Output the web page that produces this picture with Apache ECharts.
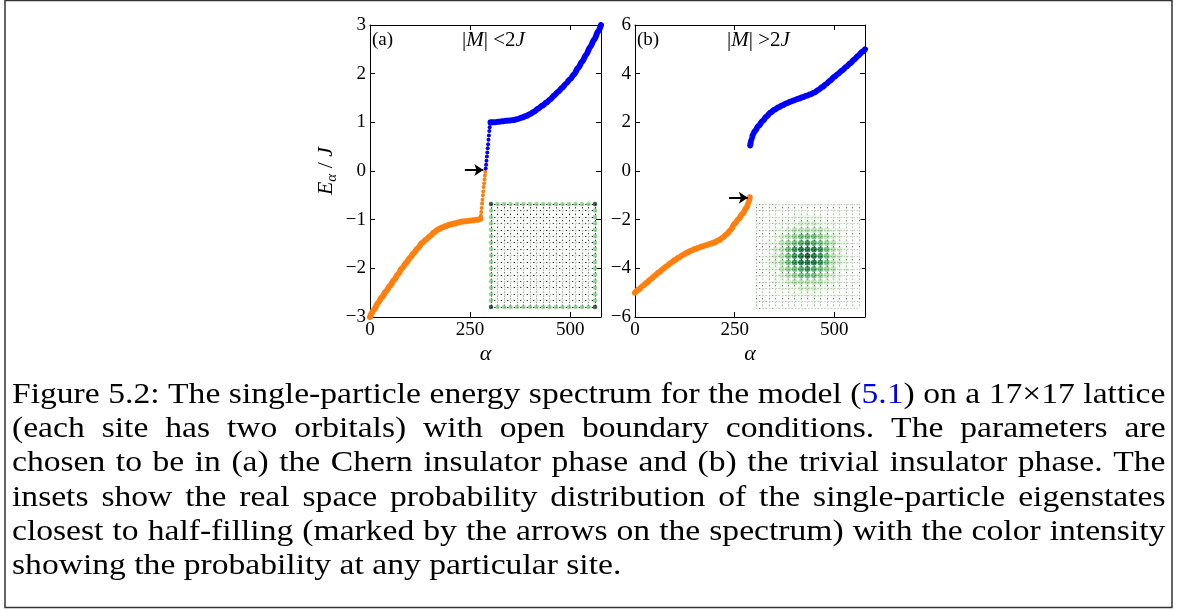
<!DOCTYPE html>
<html>
<head>
<meta charset="utf-8">
<script src="https://cdn.jsdelivr.net/npm/echarts@6/dist/echarts.min.js"></script>
<style>
  body { margin: 0; background: #fff; }
  #chart { position: absolute; left: 0; top: 0; width: 1178px; height: 610px; }
  .cap { position: absolute; left: 12px; width: 1030px; height: 34px; line-height: 34px;
         font-family: "Liberation Serif", serif; font-size: 30px; color: #000; white-space: nowrap;
         transform: scaleX(1.12); transform-origin: left center; }
  .cap.just { display: flex; justify-content: space-between; }
</style>
</head>
<body>
<div id="chart"></div>
<div id="caption"></div>
<script>
// panel (a): |M| < 2J, lower band (orange) and upper band (blue)
var alphaLowA = [0, 10, 20, 30, 40, 50, 60, 70, 80, 90, 100, 110, 120, 130, 140, 150, 160, 170, 180, 190, 200, 210, 220, 230, 240, 250, 260, 270, 276]
var energyLowA = [-3.0, -2.85, -2.71, -2.59, -2.47, -2.36, -2.24, -2.12, -2.0, -1.89, -1.78, -1.68, -1.58, -1.48, -1.41, -1.34, -1.26, -1.2, -1.16, -1.13, -1.1, -1.08, -1.06, -1.04, -1.03, -1.02, -1.01, -1.0, -0.98]
// edge states crossing the gap, drawn as single dots
var alphaEdgeLowA = [277, 278, 279, 280, 281, 282, 283, 284, 285, 286, 287, 288]
var energyEdgeLowA = [-0.92, -0.84, -0.76, -0.67, -0.59, -0.5, -0.42, -0.33, -0.25, -0.17, -0.09, -0.02]
var alphaEdgeHighA = [289, 290, 291, 292, 293, 294, 295, 296, 297, 298, 299, 300]
var energyEdgeHighA = [0.05, 0.13, 0.21, 0.3, 0.38, 0.47, 0.55, 0.64, 0.73, 0.82, 0.9, 0.97]
var alphaHighA = [301, 310, 320, 330, 340, 350, 360, 370, 380, 390, 400, 410, 420, 430, 440, 450, 460, 470, 480, 490, 500, 510, 520, 530, 540, 550, 560, 570, 577]
var energyHighA = [1.0, 1.0, 1.01, 1.02, 1.03, 1.04, 1.05, 1.07, 1.1, 1.13, 1.17, 1.22, 1.28, 1.34, 1.4, 1.47, 1.55, 1.63, 1.71, 1.8, 1.89, 1.99, 2.12, 2.25, 2.39, 2.55, 2.7, 2.87, 3.0]

// panel (b): |M| > 2J
var alphaLowB = [0, 10, 20, 30, 40, 50, 60, 70, 80, 90, 100, 110, 120, 130, 140, 150, 160, 170, 180, 190, 200, 210, 220, 230, 240, 250, 260, 270, 280, 285, 288]
var energyLowB = [-5.0, -4.86, -4.72, -4.58, -4.44, -4.3, -4.16, -4.03, -3.9, -3.78, -3.66, -3.55, -3.45, -3.36, -3.28, -3.21, -3.15, -3.09, -3.04, -2.99, -2.93, -2.85, -2.74, -2.6, -2.42, -2.17, -1.97, -1.76, -1.5, -1.3, -1.08]
var alphaHighB = [289, 292, 296, 300, 310, 320, 330, 340, 350, 360, 370, 380, 390, 400, 410, 420, 430, 440, 450, 460, 470, 480, 490, 500, 510, 520, 530, 540, 550, 560, 570, 577]
var energyHighB = [1.05, 1.3, 1.5, 1.62, 1.85, 2.05, 2.24, 2.4, 2.52, 2.62, 2.7, 2.78, 2.85, 2.91, 2.97, 3.03, 3.09, 3.15, 3.23, 3.33, 3.45, 3.58, 3.72, 3.87, 4.0, 4.14, 4.28, 4.43, 4.58, 4.74, 4.9, 5.0]

// arrows marking the state closest to half filling
var arrowA = [[237, 0.02], [283, 0.02]]
var arrowB = [[236, -1.1], [283, -1.1]]

// inset probabilities on the 17x17 lattice (0..9), rows from top
var probA = [
  [9,4,4,4,4,4,4,4,4,4,4,4,4,4,4,4,9],
  [4,0,0,0,0,0,0,0,0,0,0,0,0,0,0,0,4],
  [4,0,0,0,0,0,0,0,0,0,0,0,0,0,0,0,4],
  [4,0,0,0,0,0,0,0,0,0,0,0,0,0,0,0,4],
  [4,0,0,0,0,0,0,0,0,0,0,0,0,0,0,0,4],
  [4,0,0,0,0,0,0,0,0,0,0,0,0,0,0,0,4],
  [4,0,0,0,0,0,0,0,0,0,0,0,0,0,0,0,4],
  [4,0,0,0,0,0,0,0,0,0,0,0,0,0,0,0,4],
  [4,0,0,0,0,0,0,0,0,0,0,0,0,0,0,0,4],
  [4,0,0,0,0,0,0,0,0,0,0,0,0,0,0,0,4],
  [4,0,0,0,0,0,0,0,0,0,0,0,0,0,0,0,4],
  [4,0,0,0,0,0,0,0,0,0,0,0,0,0,0,0,4],
  [4,0,0,0,0,0,0,0,0,0,0,0,0,0,0,0,4],
  [4,0,0,0,0,0,0,0,0,0,0,0,0,0,0,0,4],
  [4,0,0,0,0,0,0,0,0,0,0,0,0,0,0,0,4],
  [4,0,0,0,0,0,0,0,0,0,0,0,0,0,0,0,4],
  [9,4,4,4,4,4,4,4,4,4,4,4,4,4,4,4,9]
]
var probB = [
  [0,0,0,0,0,0,0,0,0,0,0,0,0,0,0,0,0],
  [0,0,0,0,0,0,0,0,0,0,0,0,0,0,0,0,0],
  [0,0,0,0,0,0,1,1,1,1,1,0,0,0,0,0,0],
  [0,0,0,0,1,1,1,2,2,2,1,1,1,0,0,0,0],
  [0,0,0,1,1,2,3,3,3,3,3,2,1,1,0,0,0],
  [0,0,0,1,2,3,4,5,5,5,4,3,2,1,0,0,0],
  [0,0,1,1,3,4,5,6,7,6,5,4,3,1,1,0,0],
  [0,0,1,2,3,5,7,8,8,8,7,5,3,2,1,0,0],
  [0,0,1,2,3,5,7,8,9,8,7,5,3,2,1,0,0],
  [0,0,1,2,3,5,7,8,8,8,7,5,3,2,1,0,0],
  [0,0,1,1,3,4,5,6,7,6,5,4,3,1,1,0,0],
  [0,0,0,1,2,3,4,5,5,5,4,3,2,1,0,0,0],
  [0,0,0,1,1,2,3,3,3,3,3,2,1,1,0,0,0],
  [0,0,0,0,1,1,1,2,2,2,1,1,1,0,0,0,0],
  [0,0,0,0,0,0,1,1,1,1,1,0,0,0,0,0,0],
  [0,0,0,0,0,0,0,0,0,0,0,0,0,0,0,0,0],
  [0,0,0,0,0,0,0,0,0,0,0,0,0,0,0,0,0]
]

var captionLines = [
  'Figure 5.2: The single-particle energy spectrum for the model (5.1) on a 17×17 lattice',
  '(each site has two orbitals) with open boundary conditions. The parameters are',
  'chosen to be in (a) the Chern insulator phase and (b) the trivial insulator phase. The',
  'insets show the real space probability distribution of the single-particle eigenstates',
  'closest to half-filling (marked by the arrows on the spectrum) with the color intensity',
  'showing the probability at any particular site.'
]

var ORANGE = '#ff7f0e'
var BLUE = '#0000ff'
var GREENS = ['#f7fcf5', '#e5f5e0', '#c7e9c0', '#a1d99b', '#74c476', '#41ab5d', '#238b45', '#006d2c', '#00441b']
var FONT = 'Liberation Serif'

function pairs(xs, ys) {
  return xs.map(function(x, i) { return [x, ys[i]] })
}

function latticePoints(mat) {
  var pts = []
  mat.forEach(function(row, r) {
    row.forEach(function(v, c) { pts.push([c, 16 - r, v]) })
  })
  return pts
}

function minus(v) {
  return v < 0 ? '\u2212' + Math.abs(v) : String(v)
}

function frameAxis(grid, pos, opts) {
  var ax = {
    gridIndex: grid, type: 'value', position: pos,
    min: opts.min, max: opts.max, interval: opts.interval,
    axisLine: { show: true, onZero: false, lineStyle: { color: '#000', width: 1 } },
    axisTick: { show: true, inside: true, length: 5, lineStyle: { color: '#000' } },
    axisLabel: {
      show: !!opts.labels, color: '#000', fontFamily: FONT, fontSize: 19, margin: 4,
      formatter: minus, showMaxLabel: opts.showMax !== false
    },
    splitLine: { show: false }
  }
  if (opts.name) {
    ax.name = opts.name
    ax.nameLocation = 'middle'
    ax.nameGap = opts.nameGap
    ax.nameRotate = opts.nameRotate || 0
    ax.nameTextStyle = opts.nameStyle
  }
  return ax
}

// dotted lattice bonds, one line per row / column of sites
function insetAxis(grid) {
  return {
    gridIndex: grid, type: 'value', min: 0, max: 16, interval: 1,
    axisLine: { show: false }, axisTick: { show: false }, axisLabel: { show: false },
    splitLine: { show: true, lineStyle: { color: '#000', width: 1.1, type: [1.4, 1.85] } }
  }
}

function arrowLine(arrow) {
  return {
    silent: true, symbol: ['none', 'arrow'], symbolSize: 9,
    label: { show: false },
    lineStyle: { color: '#000', width: 2, type: 'solid' },
    data: [[{ coord: arrow[0] }, { coord: arrow[1] }]]
  }
}

function bandLine(xi, data, color, arrow) {
  var s = {
    type: 'line', xAxisIndex: xi, yAxisIndex: xi, data: data,
    showSymbol: false, symbol: 'none', smooth: 0.3, smoothMonotone: 'x',
    lineStyle: { color: color, width: 6, cap: 'round', join: 'round' },
    itemStyle: { color: color }, z: 2
  }
  if (arrow) s.markLine = arrowLine(arrow)
  return s
}

function dots(xi, data, color) {
  return {
    type: 'scatter', xAxisIndex: xi, yAxisIndex: xi, data: data,
    symbolSize: 4, itemStyle: { color: color, opacity: 1 }, z: 2
  }
}

var chart = echarts.init(document.getElementById('chart'))

var nameAlpha = { fontFamily: FONT, fontStyle: 'italic', fontSize: 22, color: '#000' }
var nameE = {
  fontFamily: FONT, fontSize: 22, color: '#000',
  rich: {
    i: { fontFamily: FONT, fontStyle: 'italic', fontSize: 22, color: '#000', lineHeight: 28, verticalAlign: 'middle' },
    s: { fontFamily: FONT, fontStyle: 'italic', fontSize: 15, color: '#000', lineHeight: 28, verticalAlign: 'bottom' },
    n: { fontFamily: FONT, fontSize: 22, color: '#000', lineHeight: 28, verticalAlign: 'middle' }
  }
}

var titleRich = {
  n: { fontFamily: FONT, fontSize: 21, fill: '#000' },
  i: { fontFamily: FONT, fontStyle: 'italic', fontSize: 21, fill: '#000' }
}

var option = {
  animation: false,
  backgroundColor: '#fff',
  grid: [
    { left: 370, top: 25, width: 231, height: 292 },
    { left: 635, top: 25, width: 230, height: 292 },
    { left: 491, top: 204, width: 104, height: 103 },
    { left: 756, top: 204, width: 103, height: 104 }
  ],
  xAxis: [
    frameAxis(0, 'bottom', { min: 0, max: 577, interval: 250, labels: true, showMax: false, name: 'α', nameGap: 26, nameStyle: nameAlpha }),
    frameAxis(0, 'top', { min: 0, max: 577, interval: 250 }),
    frameAxis(1, 'bottom', { min: 0, max: 577, interval: 250, labels: true, showMax: false, name: 'α', nameGap: 26, nameStyle: nameAlpha }),
    frameAxis(1, 'top', { min: 0, max: 577, interval: 250 }),
    insetAxis(2),
    insetAxis(3)
  ],
  yAxis: [
    frameAxis(0, 'left', { min: -3, max: 3, interval: 1, labels: true, name: '{i|E}{s|α}{n| / }{i|J}', nameGap: 30, nameRotate: 90, nameStyle: nameE }),
    frameAxis(0, 'right', { min: -3, max: 3, interval: 1 }),
    frameAxis(1, 'left', { min: -6, max: 6, interval: 2, labels: true }),
    frameAxis(1, 'right', { min: -6, max: 6, interval: 2 }),
    insetAxis(2),
    insetAxis(3)
  ],
  visualMap: [
    { type: 'continuous', show: false, seriesIndex: 6, dimension: 2, min: 0, max: 9, inRange: { color: GREENS } },
    { type: 'continuous', show: false, seriesIndex: 7, dimension: 2, min: 0, max: 9, inRange: { color: GREENS } }
  ],
  series: [
    bandLine(0, pairs(alphaLowA, energyLowA), ORANGE, arrowA),
    dots(0, pairs(alphaEdgeLowA, energyEdgeLowA), ORANGE),
    dots(0, pairs(alphaEdgeHighA, energyEdgeHighA), BLUE),
    bandLine(0, pairs(alphaHighA, energyHighA), BLUE),
    bandLine(2, pairs(alphaLowB, energyLowB), ORANGE, arrowB),
    bandLine(2, pairs(alphaHighB, energyHighB), BLUE),
    { type: 'scatter', xAxisIndex: 4, yAxisIndex: 4, data: latticePoints(probA), symbolSize: 4.5, clip: false, z: 3 },
    { type: 'scatter', xAxisIndex: 5, yAxisIndex: 5, data: latticePoints(probB), symbolSize: 6, clip: false, z: 3 }
  ],
  graphic: [
    { type: 'rect', shape: { x: 5, y: 0.5, width: 1167, height: 607 }, style: { fill: null, stroke: '#333', lineWidth: 1.5 }, silent: true },
    { type: 'text', left: 372, top: 31, style: { text: '(a)', font: '19px ' + FONT, fill: '#000' } },
    { type: 'text', left: 462, top: 30, style: { text: '{n||}{i|M}{n|| <2}{i|J}', rich: titleRich } },
    { type: 'text', left: 637, top: 31, style: { text: '(b)', font: '19px ' + FONT, fill: '#000' } },
    { type: 'text', left: 727, top: 30, style: { text: '{n||}{i|M}{n|| >2}{i|J}', rich: titleRich } }
  ]
}

chart.setOption(option)

// caption: one justified row per line, last line left aligned
var cap = document.getElementById('caption')
captionLines.forEach(function(line, i) {
  var div = document.createElement('div')
  div.className = 'cap'
  div.style.top = (376 + i * 34.2) + 'px'
  var last = i === captionLines.length - 1
  var words = line.split(' ')
  if (!last) {
    div.className += ' just'
    words.forEach(function(w) {
      var span = document.createElement('span')
      if (w === '(5.1)') {
        span.innerHTML = '(<span style="color:#0000ee">5.1</span>)'
      } else {
        span.textContent = w
      }
      div.appendChild(span)
    })
  } else {
    div.textContent = line
  }
  cap.appendChild(div)
})
</script>
</body>
</html>
